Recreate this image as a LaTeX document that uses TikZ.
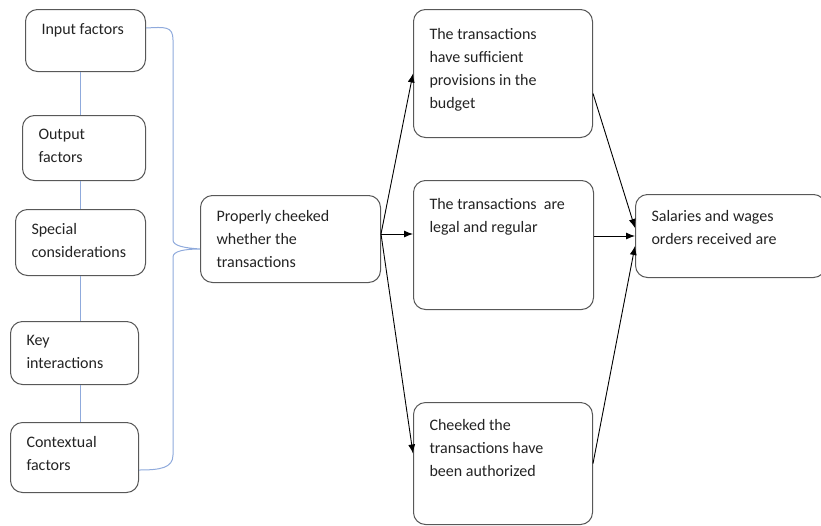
\documentclass[tikz,border=0pt]{standalone}
\usepackage{fontspec}
\setmainfont{Carlito}
\usepackage{tikz}
\usetikzlibrary{arrows.meta}
\usetikzlibrary{calc}

\definecolor{boxline}{RGB}{88,88,88}
\definecolor{linkblue}{RGB}{143,170,220}
\definecolor{txtgray}{RGB}{35,35,35}

% box text: [extra top gap], width, height (in px), text at the top left
\newcommand{\cell}[4][0]{\parbox[t][\dimexpr#3pt-28pt\relax][t]{\dimexpr#2pt-32pt\relax}{\raggedright\vspace*{#1pt}#4}}

\tikzset{
  box/.style={draw=boxline, line width=1pt, rounded corners=12pt, anchor=north west,
    inner xsep=16pt, inner ysep=14pt, text=txtgray,
    font=\fontsize{16}{23}\selectfont},
  link/.style={draw=linkblue, line width=1pt},
  arr/.style={-{Latex[length=9pt,width=7pt]}, line width=0.9pt}
}

\begin{document}
\begin{tikzpicture}[x=1pt,y=-1pt]
\useasboundingbox (0,0) rectangle (821,525);

\node[box] (input) at (25,9) {\cell{120}{62}{Input factors}};
\node[box] (output) at (22,115) {\cell{123}{65}{Output\\factors}};
\node[box] (special) at (15,209) {\cell{130}{66}{Special\\considerations}};
\node[box] (key) at (10,321) {\cell{128}{63}{Key\\interactions}};
\node[box] (context) at (10,422) {\cell{128}{70}{Contextual\\factors}};

\node[box] (proper) at (200,195) {\cell[1]{180}{87}{Properly cheeked\\whether the\\transactions}};

\node[box] (budget) at (413,9) {\cell[5]{179}{128}{The transactions\\have sufficient\\provisions in the\\budget}};
\node[box] (legal) at (413,180) {\cell[4]{180}{129}{The transactions~ are\\legal and regular}};
\node[box] (author) at (413,402) {\cell[3]{179}{122}{Cheeked the\\transactions have\\been authorized}};

\node[box] (salary) at (635,194) {\cell[2]{190}{83}{Salaries and wages\\orders received are}};

% left column
\foreach \a/\b in {input/output,output/special,special/key,key/context}
  \draw[link] (\a.south -| special.north) -- (\b.north -| special.north);

% brace
\coordinate (btop) at ($(input.north east)+(0,19)$);
\coordinate (bbot) at ($(context.north east)+(0,48)$);
\coordinate (btip) at ([yshift=-10pt]proper.west);
\draw[link] (btop) .. controls (165,27) and (173,26) .. (173,40) -- (173,240)
  .. controls (173,246) and (185,248) .. (btip)
  .. controls (185,249) and (173,251) .. (173,257) -- (173,455)
  .. controls (173,468) and (160,470) .. (bbot);

% arrows
\coordinate (pout) at ([yshift=5pt]proper.east);
\draw[arr] (pout) -- (budget.west);
\draw[arr] (pout) -- (legal.west |- pout);
\draw[arr] (pout) -- ([yshift=10pt]author.west);

\draw[arr] ([yshift=-20pt]budget.east) -- ([yshift=8pt]salary.west);
\draw[arr] (salary.west -| legal.east) -- (salary.west);
\draw[arr] (author.east) -- ([yshift=-10pt]salary.west);
\end{tikzpicture}
\end{document}
